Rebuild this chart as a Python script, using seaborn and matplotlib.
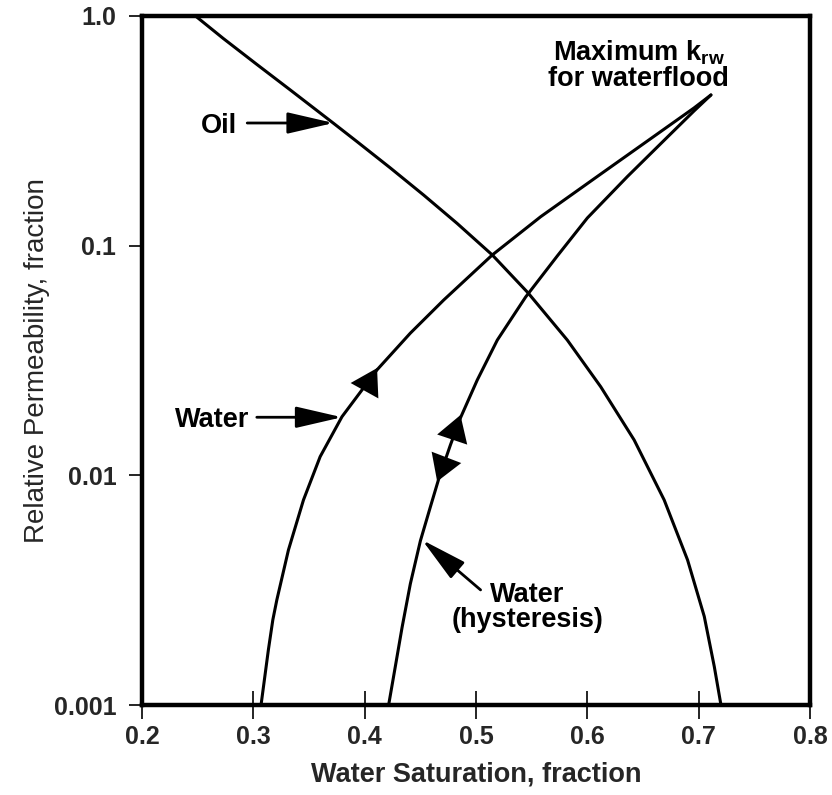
import matplotlib
matplotlib.use("Agg")
import matplotlib.pyplot as plt
import seaborn as sns
import pandas as pd

sns.set_theme(style="white")
plt.rcParams['font.family'] = ['Liberation Sans', 'DejaVu Sans']
plt.rcParams['mathtext.fontset'] = 'custom'
plt.rcParams['mathtext.bf'] = 'Liberation Sans:bold'
plt.rcParams['mathtext.rm'] = 'Liberation Sans:bold'

# ---- data ----
oil_sw = [0.248, 0.273, 0.303, 0.333, 0.372, 0.393, 0.423, 0.453, 0.483, 0.5146,
          0.5466, 0.582, 0.612, 0.642, 0.669, 0.690, 0.705, 0.714, 0.720]
oil_kr = [1.0, 0.798, 0.616, 0.477, 0.341, 0.284, 0.218, 0.166, 0.125, 0.0911,
          0.0624, 0.0388, 0.0243, 0.01426, 0.00781, 0.00428, 0.00243, 0.00147, 0.001]

water_sw = [0.3069, 0.3135, 0.3175, 0.3211, 0.3315, 0.3450, 0.3600, 0.3796, 0.4111,
            0.4410, 0.4710, 0.5146, 0.5581, 0.612, 0.6571, 0.6958, 0.711]
water_kr = [0.001, 0.00174, 0.00235, 0.00287, 0.00473, 0.00781, 0.01206, 0.0180, 0.0288,
            0.0416, 0.058, 0.0911, 0.1337, 0.205, 0.2928, 0.3977, 0.453]

hyst_sw = [0.4215, 0.4275, 0.4336, 0.4410, 0.4500, 0.4590, 0.4665, 0.4770, 0.4860,
           0.5011, 0.5191, 0.5446, 0.573, 0.600, 0.636, 0.672, 0.6958, 0.711]
hyst_kr = [0.001, 0.00147, 0.00218, 0.00337, 0.00518, 0.00729, 0.00965, 0.01356, 0.01778,
           0.0260, 0.0388, 0.0598, 0.0902, 0.1320, 0.2, 0.2973, 0.3859, 0.453]

x_ticks = [0.2, 0.3, 0.4, 0.5, 0.6, 0.7, 0.8]
y_ticks = [0.001, 0.01, 0.1, 1.0]
y_tick_labels = ["0.001", "0.01", "0.1", "1.0"]

df = pd.concat([
    pd.DataFrame({"Sw": oil_sw, "kr": oil_kr, "curve": "Oil"}),
    pd.DataFrame({"Sw": water_sw, "kr": water_kr, "curve": "Water"}),
    pd.DataFrame({"Sw": hyst_sw, "kr": hyst_kr, "curve": "Water (hysteresis)"}),
])

fig = plt.figure(figsize=(8.32, 7.95), dpi=100)
ax = fig.add_axes([0.1707, 0.1132, 0.8029, 0.8667])

sns.lineplot(data=df, x="Sw", y="kr", units="curve", estimator=None, sort=False,
             color="black", lw=2.2, ax=ax, legend=False)
for ln in ax.get_lines():
    ln.set_solid_joinstyle("round")

ax.set_yscale("log")
ax.set_xlim(0.2, 0.8)
ax.set_ylim(0.001, 1.0)
ax.set_xticks(x_ticks)
ax.set_xticklabels([f"{v:.1f}" for v in x_ticks])
ax.set_yticks(y_ticks)
ax.set_yticklabels(y_tick_labels)
ax.minorticks_off()
ax.grid(False)

for s in ax.spines.values():
    s.set_linewidth(3.2)
    s.set_color("black")

ax.tick_params(axis="x", direction="inout", length=19.5, width=1.2, color="black",
               labelsize=18, pad=5, bottom=True)
ax.tick_params(axis="y", direction="out", length=9.5, width=1.2, color="black",
               labelsize=18, pad=9, left=True)
for lab in ax.get_xticklabels() + ax.get_yticklabels():
    lab.set_fontweight("bold")

ax.set_xlabel("Water Saturation, fraction", fontsize=19.5, fontweight="bold", labelpad=9)
ax.set_ylabel("Relative Permeability, fraction", fontsize=20, labelpad=3)

# ---- annotations ----
txt_kw = dict(fontsize=19.5, fontweight="bold", color="black")
ptr_kw = dict(arrowstyle="-|>,head_length=0.95,head_width=0.22", mutation_scale=30,
              lw=2.0, color="black", shrinkA=0, shrinkB=0)

ax.annotate("", xy=(0.3720, 0.342), xytext=(0.2945, 0.342), arrowprops=ptr_kw)
ax.text(0.2853, 0.342, "Oil", ha="right", va="center_baseline", **txt_kw)

ax.annotate("", xy=(0.3796, 0.0179), xytext=(0.3031, 0.0179), arrowprops=ptr_kw)
ax.text(0.2961, 0.0179, "Water", ha="right", va="center_baseline", **txt_kw)

ax.annotate("", xy=(0.4516, 0.00523), xytext=(0.5041, 0.00317), arrowprops=ptr_kw)
ax.text(0.546, 0.00267, "Water\n(hysteresis)", ha="center", va="center",
        linespacing=0.95, **txt_kw)

ax.text(0.6462, 0.612, "Maximum k$_\\mathbf{rw}$\nfor waterflood", ha="center",
        va="center", linespacing=0.95, **txt_kw)

# direction arrows on the curves
head_kw = dict(arrowstyle="-|>,head_length=0.62,head_width=0.38", mutation_scale=30,
               lw=0.01, color="black", shrinkA=0, shrinkB=0)
ax.annotate("", xy=(0.4111, 0.0293), xytext=(0.4026, 0.0247), arrowprops=head_kw)
ax.annotate("", xy=(0.4860, 0.0183), xytext=(0.4806, 0.0153), arrowprops=head_kw)
ax.annotate("", xy=(0.4651, 0.0094), xytext=(0.4705, 0.0110), arrowprops=head_kw)

fig.savefig("out.png", dpi=100, facecolor="white")
